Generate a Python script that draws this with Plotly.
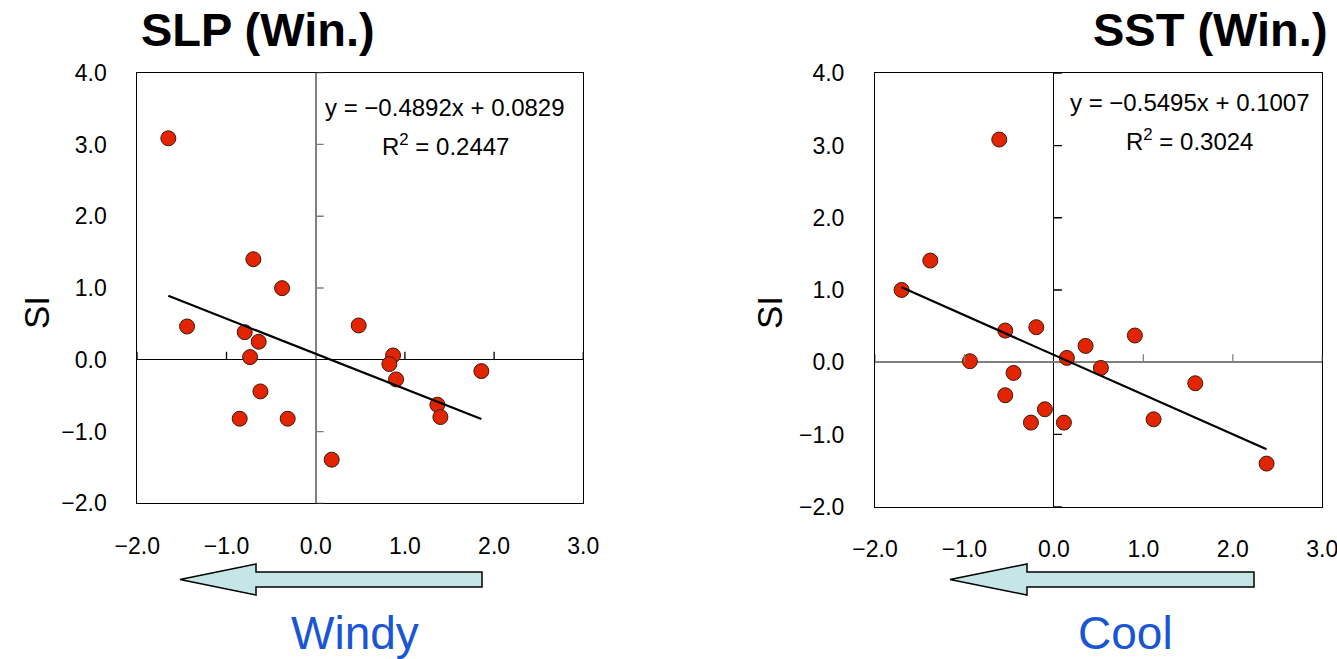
import plotly.graph_objects as go

# ---- data -------------------------------------------------------------
slp_x = [-1.652, -0.699, -0.377, -1.442, -0.796, -0.639, -0.736, -0.620, -0.852,
         -0.314, 0.179, 0.482, 0.867, 0.826, 0.901, 1.364, 1.398, 1.857]
slp_si = [3.086, 1.401, 0.998, 0.464, 0.385, 0.251, 0.037, -0.441, -0.821,
          -0.821, -1.392, 0.478, 0.060, -0.060, -0.274, -0.626, -0.798, -0.158]
slp_slope, slp_intercept, slp_r2 = -0.4892, 0.0829, 0.2447

sst_x = [-0.611, -1.382, -1.703, -0.544, -0.197, -0.939, -0.451, -0.544, -0.101,
         -0.257, 0.112, 0.145, 0.354, 0.525, 0.905, 1.580, 1.114, 2.377]
sst_si = [3.083, 1.408, 1.001, 0.438, 0.485, 0.014, -0.148, -0.457, -0.651,
          -0.836, -0.836, 0.060, 0.226, -0.079, 0.370, -0.291, -0.790, -1.403]
sst_slope, sst_intercept, sst_r2 = -0.5495, 0.1007, 0.3024

x_ticks = [-2, -1, 0, 1, 2, 3]
y_ticks = [-2, -1, 0, 1, 2, 3, 4]
x_ticktext = ["\u22122.0", "\u22121.0", "0.0", "1.0", "2.0", "3.0"]
y_ticktext = ["\u22122.0", "\u22121.0", "0.0", "1.0", "2.0", "3.0", "4.0"]

titles = ["SLP (Win.)", "SST (Win.)"]
arrow_labels = ["Windy", "Cool"]

# ---- figure geometry (pixels) -----------------------------------------
W, H = 1337, 659
FONT = "Liberation Sans"
MARKER = "#e32400"
ARROW_FILL = "#c4e6e6"
BLUE = "#1a55d6"


def px(x):
    return x / W


def py(y):
    return 1 - y / H


panels = [
    dict(x=slp_x, y=slp_si, slope=slp_slope, icpt=slp_intercept, r2=slp_r2,
         dom_x=(137.3, 583.3), dom_y=(72.7, 503.3),
         vline=dict(color="#808080", width=2), hline=dict(color="black", width=1),
         eq_pos=(1.455, 3.51, 2.99), arrow=(180, 256, 482), label_x=355,
         si_x=37, title=dict(x=139, anchor="left")),
    dict(x=sst_x, y=sst_si, slope=sst_slope, icpt=sst_intercept, r2=sst_r2,
         dom_x=(875.0, 1322.3), dom_y=(73.3, 506.7),
         vline=dict(color="black", width=1), hline=dict(color="#808080", width=2),
         eq_pos=(1.52, 3.59, 3.08), arrow=(950, 1027, 1254), label_x=1125,
         si_x=770, title=dict(x=1330, anchor="right")),
]

fig = go.Figure()
shapes = []
annotations = []

for i, p in enumerate(panels):
    n = "" if i == 0 else str(i + 1)
    xa, ya = "x" + n, "y" + n

    # scatter points
    fig.add_trace(go.Scatter(
        x=p["x"], y=p["y"], mode="markers", xaxis=xa, yaxis=ya,
        marker=dict(size=15, color=MARKER, line=dict(color="#3a1a10", width=1)),
        showlegend=False, hoverinfo="x+y"))

    # least-squares line over the data range
    x0, x1 = min(p["x"]), max(p["x"])
    fig.add_trace(go.Scatter(
        x=[x0, x1], y=[p["slope"] * x0 + p["icpt"], p["slope"] * x1 + p["icpt"]],
        mode="lines", xaxis=xa, yaxis=ya,
        line=dict(color="black", width=2.2), showlegend=False, hoverinfo="skip"))

    axis_font = dict(family=FONT, size=23, color="black")
    fig.update_layout(**{
        ("xaxis" + n): dict(
            domain=[px(p["dom_x"][0]), px(p["dom_x"][1])], anchor=ya,
            range=[-2, 3], tickvals=x_ticks, ticktext=x_ticktext, ticks="",
            ticklabelstandoff=22, ticklabeloverflow="allow",
            showgrid=False, zeroline=True,
            zerolinecolor=p["vline"]["color"], zerolinewidth=p["vline"]["width"],
            showline=True, linecolor="black", linewidth=1, mirror=True,
            tickfont=axis_font, fixedrange=True, automargin=False),
        ("yaxis" + n): dict(
            domain=[py(p["dom_y"][1]), py(p["dom_y"][0])], anchor=xa,
            range=[-2, 4], tickvals=y_ticks, ticktext=y_ticktext, ticks="",
            ticklabelstandoff=25, ticklabeloverflow="allow",
            showgrid=False, zeroline=True,
            zerolinecolor=p["hline"]["color"], zerolinewidth=p["hline"]["width"],
            showline=True, linecolor="black", linewidth=1, mirror=True,
            tickfont=axis_font, fixedrange=True, automargin=False),
    })

    # tick marks on the axes crossing at the origin
    for t in y_ticks:
        if t == 0:
            continue
        shapes.append(dict(type="line", xref=xa, yref=ya, xsizemode="pixel",
                           xanchor=0, x0=0, x1=8, y0=t, y1=t,
                           line=dict(color=p["vline"]["color"], width=1.3)))
    for t in x_ticks:
        if t == 0:
            continue
        shapes.append(dict(type="line", xref=xa, yref=ya, ysizemode="pixel",
                           yanchor=0, y0=0, y1=8, x0=t, x1=t,
                           line=dict(color=p["hline"]["color"], width=1.3)))

    # regression equation
    ex, ey1, ey2 = p["eq_pos"]
    eq = "y = \u2212{:.4f}x + {:.4f}".format(abs(p["slope"]), p["icpt"])
    annotations.append(dict(xref=xa, yref=ya, x=ex, y=ey1, text=eq, showarrow=False,
                            font=dict(family=FONT, size=24, color="black")))
    annotations.append(dict(xref=xa, yref=ya, x=ex, y=ey2,
                            text="R<sup>2</sup> = {:.4f}".format(p["r2"]),
                            showarrow=False,
                            font=dict(family=FONT, size=24, color="black")))

    # panel title
    annotations.append(dict(xref="paper", yref="paper", x=px(p["title"]["x"]),
                            y=py(30), xanchor=p["title"]["anchor"], yanchor="middle",
                            text="<b>" + titles[i] + "</b>", showarrow=False,
                            font=dict(family=FONT, size=47, color="black")))

    # y-axis label
    annotations.append(dict(xref="paper", yref="paper", x=px(p["si_x"]), y=py(313),
                            text="SI", textangle=-90, showarrow=False,
                            xanchor="center", yanchor="middle",
                            font=dict(family=FONT, size=35, color="black")))

    # direction arrow under the x axis
    tip, back, end = p["arrow"]
    yc, sh, hh = 579.5, 7.5, 15.5
    path = "M {} {} L {} {} L {} {} L {} {} L {} {} L {} {} L {} {} Z".format(
        px(tip), py(yc),
        px(back), py(yc - hh),
        px(back), py(yc - sh),
        px(end), py(yc - sh),
        px(end), py(yc + sh),
        px(back), py(yc + sh),
        px(back), py(yc + hh))
    shapes.append(dict(type="path", xref="paper", yref="paper", path=path,
                       fillcolor=ARROW_FILL, line=dict(color="black", width=1.5)))

    annotations.append(dict(xref="paper", yref="paper", x=px(p["label_x"]), y=py(633),
                            text=arrow_labels[i], showarrow=False,
                            xanchor="center", yanchor="middle",
                            font=dict(family=FONT, size=46, color=BLUE)))

fig.update_layout(
    width=W, height=H,
    margin=dict(l=0, r=0, t=0, b=0),
    paper_bgcolor="white", plot_bgcolor="white",
    shapes=shapes, annotations=annotations,
    showlegend=False,
)

fig.write_html("out.html", config={"displayModeBar": False})
